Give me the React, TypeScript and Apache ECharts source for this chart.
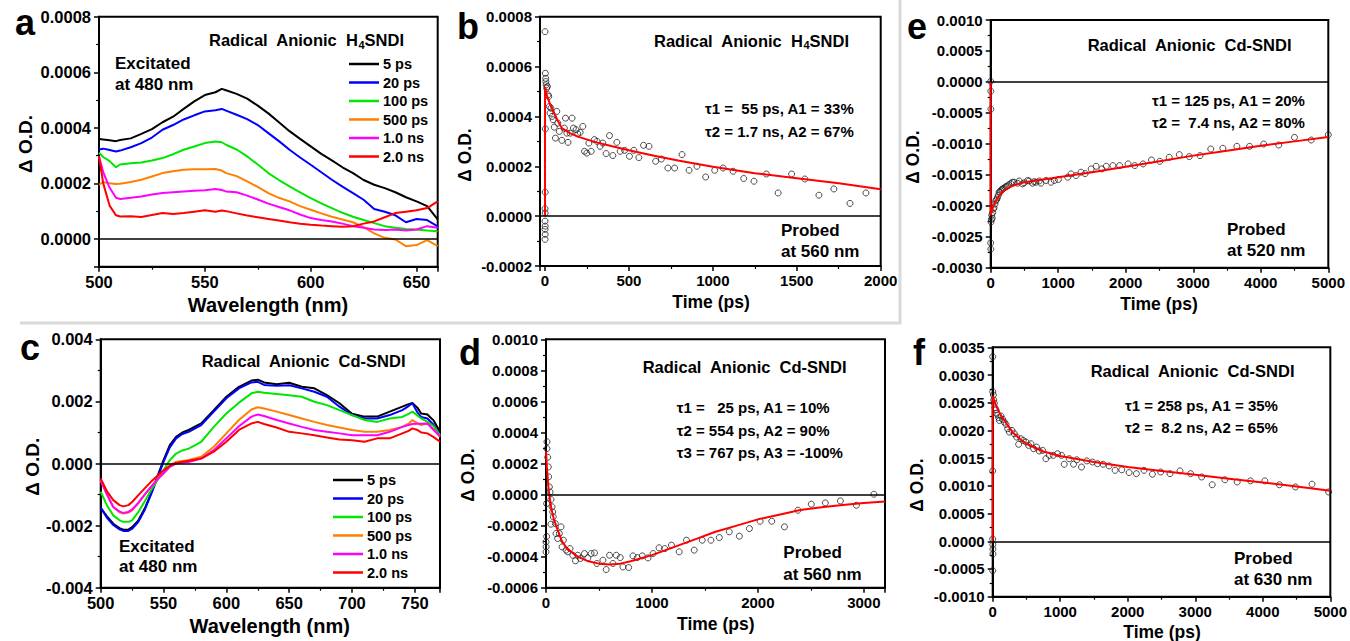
import React, { useEffect, useRef } from "react";
import * as echarts from "echarts";

const FONT = '"Liberation Sans", Arial, Helvetica, sans-serif';

// ---------- shared ----------
const timeLabels = ["5 ps", "20 ps", "100 ps", "500 ps", "1.0 ns", "2.0 ns"];
const spectrumColors = ["#000000", "#0000ff", "#00e600", "#ff8000", "#ff00ff", "#ff0000"];
const fitColor = "#ff0000";

// ---------- panel a : Radical Anionic H4SNDI spectra ----------
const aWavelength = [500, 502, 505, 508, 510, 515, 520, 525, 530, 535, 540, 545, 550, 555, 558, 560, 565, 570, 575, 580, 585, 590, 595, 600, 605, 610, 615, 620, 625, 630, 635, 640, 645, 650, 655, 660];
const a5ps = [0.00036, 0.000358, 0.000355, 0.000352, 0.000356, 0.000362, 0.000378, 0.000395, 0.00042, 0.00044, 0.000468, 0.000495, 0.000518, 0.000528, 0.00054, 0.000535, 0.000522, 0.000505, 0.00048, 0.000452, 0.00042, 0.000388, 0.00036, 0.000333, 0.000306, 0.000283, 0.000258, 0.000237, 0.000212, 0.000195, 0.000183, 0.000168, 0.00015, 0.000135, 0.000118, 0.00007];
const a20ps = [0.000322, 0.000325, 0.00032, 0.000315, 0.000318, 0.00033, 0.000345, 0.000365, 0.000393, 0.00041, 0.00043, 0.000445, 0.000459, 0.000463, 0.000468, 0.000462, 0.000447, 0.000431, 0.00041, 0.000381, 0.000352, 0.000321, 0.000293, 0.000267, 0.00024, 0.000213, 0.000188, 0.000165, 0.000141, 0.000108, 0.000098, 0.000085, 0.00006, 0.000072, 0.000068, 0.000045];
const a100ps = [0.00031, 0.000295, 0.00028, 0.000258, 0.000268, 0.000272, 0.000275, 0.000282, 0.000291, 0.000305, 0.000321, 0.000333, 0.000345, 0.000351, 0.000348, 0.000339, 0.000322, 0.000297, 0.000268, 0.000237, 0.000212, 0.000189, 0.000168, 0.000147, 0.000128, 0.000111, 0.000094, 0.00008, 0.000068, 0.000057, 0.000046, 0.00004, 0.000036, 0.000034, 0.00003, 0.000028];
const a500ps = [0.000195, 0.000205, 0.0002, 0.000198, 0.000199, 0.000205, 0.000213, 0.000225, 0.000237, 0.000244, 0.000249, 0.000251, 0.000251, 0.000252, 0.000246, 0.000237, 0.000226, 0.000207, 0.000187, 0.000165, 0.000148, 0.000135, 0.000118, 0.000105, 0.000092, 0.00008, 0.00007, 0.00006, 0.000042, 0.00002, 0.000004, -0.000002, -0.000026, -0.000022, -0.000004, -0.000026];
const a1ns = [0.000297, 0.00024, 0.000185, 0.000148, 0.000144, 0.000148, 0.000153, 0.00016, 0.000165, 0.000168, 0.000171, 0.000173, 0.000175, 0.00018, 0.000176, 0.000171, 0.000168, 0.000156, 0.000142, 0.000127, 0.000115, 0.000103, 0.000088, 0.000075, 0.000068, 0.000063, 0.000055, 0.000046, 0.00004, 0.000034, 0.000032, 0.000034, 0.00003, 0.000034, 0.000046, 0.00004];
const a2ns = [0.000297, 0.0002, 0.00012, 0.000085, 0.000081, 0.000082, 0.000079, 0.000086, 0.000093, 0.00009, 0.000093, 0.000098, 0.000103, 0.000098, 0.000102, 0.0001, 0.000092, 0.000084, 0.000078, 0.000072, 0.000066, 0.00006, 0.000055, 0.000051, 0.000048, 0.000046, 0.000044, 0.000046, 0.000055, 0.000063, 0.000078, 0.000093, 0.000098, 0.000103, 0.000111, 0.000135];

// ---------- panel c : Radical Anionic Cd-SNDI spectra ----------
const cWavelength = [500, 505, 510, 515, 518, 522, 525, 530, 535, 540, 545, 550, 555, 560, 565, 570, 580, 590, 600, 610, 620, 625, 630, 640, 650, 660, 670, 680, 690, 700, 710, 720, 730, 740, 745, 748, 752, 755, 760, 765, 770];
const c5ps = [-0.00143, -0.0017, -0.00194, -0.00208, -0.00213, -0.00213, -0.00205, -0.00183, -0.00145, -0.00097, -0.00043, 0.00011, 0.00059, 0.00086, 0.001, 0.00108, 0.00129, 0.00172, 0.00215, 0.00247, 0.00267, 0.0027, 0.00261, 0.00255, 0.0026, 0.00247, 0.00242, 0.0022, 0.00194, 0.0016, 0.00151, 0.00151, 0.00167, 0.00183, 0.00191, 0.00195, 0.0018, 0.00161, 0.00158, 0.00138, 0.00102];
const c20ps = [-0.00143, -0.00175, -0.00198, -0.00212, -0.00217, -0.00217, -0.0021, -0.00188, -0.0015, -0.001, -0.00048, 0.00005, 0.00052, 0.00081, 0.00095, 0.00102, 0.00124, 0.00167, 0.0021, 0.00242, 0.00261, 0.00263, 0.00253, 0.0025, 0.00252, 0.00242, 0.00231, 0.00215, 0.00183, 0.00156, 0.00145, 0.00145, 0.00156, 0.00172, 0.00185, 0.00194, 0.00165, 0.0015, 0.00145, 0.00124, 0.00091];
const c100ps = [-0.00091, -0.00135, -0.00167, -0.00183, -0.00188, -0.00188, -0.00183, -0.00156, -0.00122, -0.00086, -0.00055, -0.00022, 0.00011, 0.00032, 0.00042, 0.00048, 0.0007, 0.00118, 0.00161, 0.00196, 0.00226, 0.00231, 0.00228, 0.00224, 0.0022, 0.00215, 0.00199, 0.00188, 0.00172, 0.00156, 0.0014, 0.00134, 0.00145, 0.0015, 0.0016, 0.00167, 0.00155, 0.00145, 0.00134, 0.0012, 0.00091];
const c500ps = [-0.00054, -0.001, -0.0014, -0.00157, -0.00161, -0.00158, -0.00151, -0.00127, -0.001, -0.00075, -0.0005, -0.00027, -0.00005, 0.00005, 0.00008, 0.00011, 0.00022, 0.00054, 0.00097, 0.0014, 0.00174, 0.00181, 0.00177, 0.00167, 0.00156, 0.00145, 0.00134, 0.00124, 0.00116, 0.00108, 0.00102, 0.00102, 0.00108, 0.00118, 0.00128, 0.0014, 0.0013, 0.00124, 0.00129, 0.0011, 0.00086];
const c1ns = [-0.00054, -0.001, -0.0014, -0.00155, -0.00159, -0.00156, -0.00148, -0.00127, -0.001, -0.00075, -0.00052, -0.00032, -0.00011, 0.0, 0.00003, 0.00005, 0.00016, 0.00043, 0.00081, 0.0012, 0.00151, 0.00158, 0.00153, 0.0014, 0.00129, 0.00118, 0.00108, 0.00102, 0.00097, 0.00091, 0.00091, 0.00091, 0.00102, 0.00118, 0.00124, 0.00127, 0.00128, 0.00128, 0.00129, 0.00108, 0.00088];
const c2ns = [-0.00048, -0.0009, -0.00118, -0.00134, -0.00138, -0.00134, -0.00124, -0.00102, -0.0008, -0.00059, -0.0004, -0.00022, -0.00008, 0.00002, 0.00006, 0.00009, 0.00016, 0.00038, 0.0007, 0.00108, 0.00129, 0.00134, 0.00127, 0.00116, 0.00102, 0.00097, 0.00091, 0.00084, 0.00077, 0.00075, 0.0007, 0.00081, 0.00081, 0.00097, 0.00105, 0.00113, 0.00108, 0.001, 0.00097, 0.00085, 0.0007];

// ---------- panel b : H4SNDI kinetics probed at 560 nm ----------
const bTime = [0, 0, 1, 0, 1, 0, 1, 0, 1, 2, 2, 4, 5, 7, 10, 14, 18, 22, 26, 30, 35, 42, 48, 55, 62, 70, 76, 85, 100, 115, 122, 130, 137, 150, 161, 169, 185, 195, 209, 225, 235, 249, 261, 275, 294, 310, 328, 344, 364, 384, 404, 428, 448, 474, 503, 529, 559, 587, 619, 659, 693, 732, 772, 816, 858, 905, 957, 1011, 1061, 1121, 1184, 1245, 1319, 1389, 1469, 1548, 1632, 1721, 1817, 1912];
const bDOD = [0.00074, -0.000093, -0.000073, -0.000053, -0.00004, -0.00002, 0.000013, 0.00003, 0.000096, 0.00035, 0.000573, 0.000553, 0.00054, 0.000527, 0.000513, 0.00052, 0.000487, 0.00048, 0.00044, 0.000413, 0.000433, 0.0004, 0.000387, 0.000357, 0.000313, 0.00042, 0.000373, 0.00034, 0.000304, 0.000353, 0.000393, 0.000333, 0.000296, 0.000333, 0.000393, 0.000353, 0.000347, 0.00033, 0.000336, 0.00036, 0.00026, 0.000253, 0.000293, 0.00026, 0.000307, 0.0003, 0.00028, 0.000293, 0.000251, 0.000323, 0.000243, 0.000296, 0.00026, 0.000264, 0.00024, 0.000264, 0.000235, 0.000284, 0.00028, 0.00022, 0.000229, 0.000193, 0.000193, 0.000247, 0.000184, 0.0002, 0.000157, 0.000184, 0.000193, 0.00018, 0.000151, 0.00014, 0.000169, 0.000093, 0.000169, 0.000149, 0.000084, 0.000109, 0.000051, 0.000093];
const bFitTime = [0, 0, 10, 20, 35, 50, 75, 100, 150, 200, 300, 400, 500, 650, 800, 1000, 1250, 1500, 1750, 2000];
const bFitDOD = [0, 0.000517, 0.000487, 0.000467, 0.00044, 0.00042, 0.000384, 0.000353, 0.000332, 0.000318, 0.000297, 0.00028, 0.000264, 0.000242, 0.000222, 0.000198, 0.000172, 0.000152, 0.000132, 0.000108];

// ---------- panel e : Cd-SNDI kinetics probed at 520 nm ----------
const eTime = [0, 2, 3, 0, 2, 5, 10, 15, 22, 30, 40, 50, 64, 74, 88, 99, 112, 124, 137, 149, 162, 174, 190, 213, 230, 248, 270, 298, 322, 347, 397, 422, 471, 496, 546, 570, 620, 645, 670, 719, 744, 818, 893, 942, 1002, 1141, 1190, 1265, 1339, 1399, 1488, 1562, 1647, 1711, 1810, 1910, 2034, 2133, 2257, 2381, 2505, 2644, 2793, 2941, 3100, 3259, 3438, 3646, 3834, 4043, 4266, 4499, 4747, 5000];
const eDOD = [0.00001, -0.00015, -0.00044, -0.0026, -0.0027, -0.00226, -0.00222, -0.00215, -0.0022, -0.00211, -0.00205, -0.00203, -0.00197, -0.00192, -0.0019, -0.00187, -0.00183, -0.00178, -0.00178, -0.00176, -0.00174, -0.00173, -0.00172, -0.0017, -0.00169, -0.00168, -0.00166, -0.00164, -0.00162, -0.00162, -0.001635, -0.0016, -0.001646, -0.00163, -0.001592, -0.0016, -0.001635, -0.00161, -0.00162, -0.0016, -0.001635, -0.001592, -0.00162, -0.001592, -0.001576, -0.001539, -0.001485, -0.001512, -0.001458, -0.00148, -0.001405, -0.001362, -0.001405, -0.001362, -0.001351, -0.001351, -0.001324, -0.001351, -0.001324, -0.00126, -0.001282, -0.001217, -0.001174, -0.001206, -0.00119, -0.001083, -0.001072, -0.00104, -0.00104, -0.001003, -0.001019, -0.000895, -0.000938, -0.000853];
const eFitTime = [0, 0, 10, 25, 50, 100, 150, 200, 300, 400, 500, 750, 1000, 1500, 2000, 2500, 3000, 3500, 4000, 4500, 5000];
const eFitDOD = [0, -0.00215, -0.00211, -0.00205, -0.00198, -0.00188, -0.00181, -0.00175, -0.00169, -0.00165, -0.00162, -0.00158, -0.00154, -0.00146, -0.00137, -0.00128, -0.00119, -0.00111, -0.00103, -0.00096, -0.00089];

// ---------- panel d : Cd-SNDI kinetics probed at 560 nm ----------
const dTime = [0, 1, 0, 6, 6, 9, 9, 16, 22, 25, 32, 38, 47, 57, 63, 69, 47, 88, 95, 110, 126, 142, 152, 164, 189, 205, 227, 253, 278, 300, 325, 363, 395, 426, 458, 480, 537, 568, 600, 632, 663, 701, 726, 780, 821, 862, 909, 963, 1011, 1067, 1121, 1184, 1257, 1326, 1399, 1475, 1557, 1636, 1730, 1825, 1920, 2021, 2131, 2251, 2378, 2504, 2637, 2779, 2930, 3095];
const dDOD = [-0.000305, -0.000337, -0.000369, -0.00027, -0.000058, 0.00034, 0.000296, 0.00024, 0.000178, 0.000114, 0.000049, 0.000017, -0.000032, -0.000079, -0.000112, -0.000144, -0.000191, -0.000187, -0.000251, -0.000283, -0.000251, -0.000208, -0.000337, -0.000294, -0.000358, -0.000369, -0.000348, -0.000391, -0.000427, -0.000391, -0.000412, -0.00038, -0.000408, -0.00038, -0.000376, -0.000444, -0.000423, -0.000483, -0.000391, -0.000444, -0.000391, -0.000406, -0.000466, -0.00047, -0.000395, -0.000406, -0.000395, -0.000408, -0.00038, -0.000343, -0.000348, -0.000326, -0.000369, -0.000294, -0.000358, -0.000294, -0.000294, -0.000277, -0.00024, -0.000268, -0.000219, -0.000172, -0.000172, -0.000208, -0.000101, -0.000062, -0.000054, -0.000041, -0.000069, 0.000002];
const dFitTime = [0, 10, 25, 50, 75, 100, 150, 200, 300, 400, 500, 600, 700, 800, 1000, 1200, 1400, 1600, 1800, 2000, 2200, 2400, 2600, 2800, 3000, 3200];
const dFitDOD = [0.00028, 0.00016, 0.00003, -0.00009, -0.00016, -0.00021, -0.0003, -0.00035, -0.0004, -0.00043, -0.000445, -0.00045, -0.000445, -0.00043, -0.00039, -0.00034, -0.00029, -0.00024, -0.0002, -0.00016, -0.00013, -0.0001, -0.000082, -0.000067, -0.000055, -0.000045];

// ---------- panel f : Cd-SNDI kinetics probed at 630 nm ----------
const fTime = [0, 0, 0, 2, 3, 4, 0, 1, 10, 15, 25, 34, 49, 59, 74, 89, 99, 123, 148, 172, 197, 222, 246, 286, 320, 355, 384, 419, 453, 493, 532, 567, 606, 650, 690, 739, 788, 837, 897, 961, 1020, 1059, 1133, 1197, 1246, 1315, 1394, 1478, 1552, 1635, 1724, 1813, 1911, 2020, 2128, 2241, 2365, 2488, 2626, 2773, 2931, 3094, 3251, 3438, 3621, 3818, 4030, 4246, 4483, 4729, 4975];
const fDOD = [0.00333, 0.00127, 0.00004, -0.00006, -0.00014, -0.00023, -0.00053, 0.0027, 0.00264, 0.00255, 0.00249, 0.00241, 0.00237, 0.00231, 0.00228, 0.00223, 0.00218, 0.00226, 0.0022, 0.00215, 0.00211, 0.00203, 0.00197, 0.002, 0.00194, 0.00188, 0.00175, 0.00185, 0.00182, 0.00179, 0.00173, 0.00176, 0.00167, 0.0017, 0.00163, 0.00164, 0.00149, 0.00155, 0.00155, 0.00158, 0.00155, 0.00139, 0.00149, 0.00139, 0.00147, 0.00134, 0.00145, 0.00143, 0.0014, 0.00139, 0.00136, 0.00128, 0.00129, 0.00124, 0.00122, 0.00128, 0.00121, 0.00125, 0.00122, 0.00127, 0.00122, 0.00116, 0.00102, 0.00111, 0.00107, 0.00109, 0.00109, 0.00102, 0.00098, 0.00103, 0.00089];
const fFitTime = [0, 0, 25, 50, 100, 150, 200, 300, 400, 500, 750, 1000, 1500, 2000, 2500, 3000, 3500, 4000, 4500, 5000];
const fFitDOD = [0, 0.00262, 0.00253, 0.00245, 0.00232, 0.00222, 0.00213, 0.00196, 0.00185, 0.00176, 0.00162, 0.00154, 0.00143, 0.00134, 0.00127, 0.0012, 0.00113, 0.00106, 0.00099, 0.00091];

// ---------- helpers ----------
const zip = (xs: number[], ys: number[]) => {
  const n = Math.min(xs.length, ys.length);
  const out: number[][] = [];
  for (let i = 0; i < n; i++) out.push([xs[i], ys[i]]);
  return out;
};

const fixed = (d: number) => (v: number) => (Math.abs(v) < 1e-12 ? (0).toFixed(d) : v.toFixed(d));
const intLabel = (v: number) => (v < 0 ? "" : String(Math.round(v)));

const axisStyle = (fs: number, margin: number) => ({
  axisLine: { show: true, onZero: false, lineStyle: { color: "#000", width: 2 } },
  axisTick: { show: true, inside: false, length: 5, lineStyle: { color: "#000", width: 1.5 } },
  minorTick: { show: true, splitNumber: 2, length: 3, lineStyle: { color: "#000", width: 1.2 } },
  splitLine: { show: false },
  minorSplitLine: { show: false },
  axisLabel: { color: "#000", fontSize: fs, fontWeight: "bold", fontFamily: FONT, margin },
});

function xAxisCfg(gridIndex: number, fs: number, extra: any, label: any = {}) {
  const base = axisStyle(fs, 7);
  return { type: "value", gridIndex, ...extra, ...base, axisLabel: { ...base.axisLabel, formatter: intLabel, ...label } };
}
function yAxisCfg(gridIndex: number, fs: number, digits: number, extra: any, label: any = {}) {
  const base = axisStyle(fs, 8);
  return { type: "value", gridIndex, ...extra, ...base, axisLabel: { ...base.axisLabel, formatter: fixed(digits), ...label } };
}

const zeroLine = {
  silent: true,
  symbol: "none",
  label: { show: false },
  lineStyle: { color: "#000", width: 1.5, type: "solid" },
  data: [{ yAxis: 0 }],
};

const txt = (x: number, y: number, text: string, fontSize: number, extra: any = {}) => ({
  type: "text",
  x,
  y,
  silent: true,
  style: { text, fontSize, fontWeight: "bold", fontFamily: FONT, fill: "#000", align: "left", verticalAlign: "middle", ...extra },
});

const titleRich = (x: number, y: number, pre: string, sub: string, post: string) => ({
  type: "text",
  x,
  y,
  silent: true,
  style: {
    text: sub ? `{n|${pre}}{s|${sub}}{n|${post}}` : `{n|${pre}}`,
    align: "left",
    verticalAlign: "middle",
    rich: {
      n: { fontSize: 16.5, fontWeight: "bold", fontFamily: FONT, fill: "#000", lineHeight: 20 },
      s: { fontSize: 11, fontWeight: "bold", fontFamily: FONT, fill: "#000", lineHeight: 12, verticalAlign: "bottom" },
    },
  },
});

const yTitle = (x: number, y: number, fs: number) => txt(x, y, "\u0394 O.D.", fs, { align: "center" });
const rotY = (x: number, y: number, fs: number) => ({ ...yTitle(x, y, fs), rotation: Math.PI / 2 });
const xTitle = (x: number, y: number, text: string, fs: number) => txt(x, y, text, fs, { align: "center" });

const SP = "\u00A0";

function buildOption() {
  const grids = [
    { left: 99, top: 16.7, width: 338.7, height: 250 }, // a
    { left: 540, top: 16.7, width: 340.7, height: 249.3 }, // b
    { left: 990.7, top: 20, width: 337.6, height: 247.7 }, // e
    { left: 100.7, top: 339.3, width: 339.3, height: 248.4 }, // c
    { left: 546, top: 339.3, width: 339, height: 248.4 }, // d
    { left: 992.7, top: 347.3, width: 339, height: 249.4 }, // f
  ].map((g) => ({ ...g, show: true, borderColor: "#000", borderWidth: 2, backgroundColor: "transparent", containLabel: false }));

  const xAxes = [
    xAxisCfg(0, 16.5, { min: 500, max: 660, interval: 50 }, { showMaxLabel: false }),
    xAxisCfg(1, 15, { min: -30, max: 2000, splitNumber: 4 }, { showMinLabel: false }),
    xAxisCfg(2, 15, { min: 0, max: 5000, interval: 1000 }),
    xAxisCfg(3, 16.5, { min: 500, max: 770, interval: 50 }, { showMaxLabel: false }),
    xAxisCfg(4, 15, { min: 0, max: 3200, interval: 1000 }, { showMaxLabel: false }),
    xAxisCfg(5, 15, { min: 0, max: 5000, interval: 1000 }),
  ];
  const yAxes = [
    yAxisCfg(0, 16.5, 4, { min: -0.0001, max: 0.0008, splitNumber: 4 }, { showMinLabel: false }),
    yAxisCfg(1, 15, 4, { min: -0.0002, max: 0.0008, interval: 0.0002 }),
    yAxisCfg(2, 15, 4, { min: -0.003, max: 0.001, interval: 0.0005 }),
    yAxisCfg(3, 16.5, 3, { min: -0.004, max: 0.004, interval: 0.002 }),
    yAxisCfg(4, 15, 4, { min: -0.0006, max: 0.001, interval: 0.0002 }),
    yAxisCfg(5, 15, 4, { min: -0.001, max: 0.0035, interval: 0.0005 }),
  ];

  const aSeries = [a5ps, a20ps, a100ps, a500ps, a1ns, a2ns];
  const cSeries = [c5ps, c20ps, c100ps, c500ps, c1ns, c2ns];

  const series: any[] = [];
  const spectra = (idx: number, xs: number[], sets: number[][]) =>
    sets.forEach((ys, i) =>
      series.push({
        type: "line",
        name: timeLabels[i],
        xAxisIndex: idx,
        yAxisIndex: idx,
        data: zip(xs, ys),
        symbol: "none",
        showSymbol: false,
        lineStyle: { width: 2, color: spectrumColors[i] },
        itemStyle: { color: spectrumColors[i] },
        z: 3,
        silent: true,
        ...(i === 0 ? { markLine: zeroLine } : {}),
      })
    );
  spectra(0, aWavelength, aSeries);
  spectra(3, cWavelength, cSeries);

  const kinetics = (idx: number, ts: number[], vs: number[], fts: number[], fvs: number[]) => {
    series.push({
      type: "scatter",
      xAxisIndex: idx,
      yAxisIndex: idx,
      data: zip(ts, vs),
      symbol: "circle",
      symbolSize: 6,
      itemStyle: { color: "rgba(255,255,255,0)", borderColor: "#222", borderWidth: 1 },
      z: 2,
      silent: true,
      markLine: zeroLine,
    });
    series.push({
      type: "line",
      xAxisIndex: idx,
      yAxisIndex: idx,
      data: zip(fts, fvs),
      symbol: "none",
      showSymbol: false,
      lineStyle: { width: 2, color: fitColor },
      itemStyle: { color: fitColor },
      z: 4,
      silent: true,
    });
  };
  kinetics(1, bTime, bDOD, bFitTime, bFitDOD);
  kinetics(2, eTime, eDOD, eFitTime, eFitDOD);
  kinetics(4, dTime, dDOD, dFitTime, dFitDOD);
  kinetics(5, fTime, fDOD, fFitTime, fFitDOD);

  const legendBase = {
    orient: "vertical",
    icon: "rect",
    itemWidth: 30,
    itemHeight: 2.5,
    itemGap: 3.5,
    padding: 0,
    selectedMode: false,
    data: timeLabels,
    textStyle: { fontSize: 14.5, fontWeight: "bold", fontFamily: FONT, color: "#000", padding: [0, 0, 0, -1] },
  };
  const legends = [
    { ...legendBase, left: 349, top: 56.5 },
    { ...legendBase, left: 333, top: 472.5 },
  ];

  const graphics: any[] = [
    // separators
    { type: "line", silent: true, shape: { x1: 900, y1: 0, x2: 900, y2: 323 }, style: { stroke: "#d9d9d9", lineWidth: 3 } },
    { type: "line", silent: true, shape: { x1: 20, y1: 323, x2: 901.5, y2: 323 }, style: { stroke: "#d9d9d9", lineWidth: 3 } },
    // panel letters
    txt(15, 22.5, "a", 36),
    txt(457, 26.8, "b", 36),
    txt(907, 26.8, "e", 36),
    txt(20, 347.5, "c", 36),
    txt(459, 352.5, "d", 36),
    txt(913, 352.5, "f", 36),
    // titles
    titleRich(209, 40, `Radical${SP} Anionic${SP} H`, "4", "SNDI"),
    titleRich(654, 40.7, `Radical${SP} Anionic${SP} H`, "4", "SNDI"),
    titleRich(1087.7, 45, `Radical${SP} Anionic${SP} Cd-SNDI`, "", ""),
    titleRich(201.7, 360.7, `Radical${SP} Anionic${SP} Cd-SNDI`, "", ""),
    titleRich(642.7, 366.7, `Radical${SP} Anionic${SP} Cd-SNDI`, "", ""),
    titleRich(1090.7, 370.7, `Radical${SP} Anionic${SP} Cd-SNDI`, "", ""),
    // excitation notes
    txt(115, 63, "Excitated", 17),
    txt(115, 84, "at 480 nm", 17),
    txt(119, 546, "Excitated", 17),
    txt(119, 566.7, "at 480 nm", 17),
    // probe notes
    txt(781, 230, "Probed", 17),
    txt(781, 251.7, "at 560 nm", 17),
    txt(1227, 229, "Probed", 17),
    txt(1227, 250.7, "at 520 nm", 17),
    txt(783.3, 552.7, "Probed", 17),
    txt(783.3, 574, "at 560 nm", 17),
    txt(1234, 558.3, "Probed", 17),
    txt(1234, 579.3, "at 630 nm", 17),
    // fit parameters
    txt(705, 108.3, `\u03c41 =${SP} 55 ps, A1 = 33%`, 15),
    txt(705, 131, "\u03c42 = 1.7 ns, A2 = 67%", 15),
    txt(1152, 100, "\u03c41 = 125 ps, A1 = 20%", 15),
    txt(1152, 122.7, `\u03c42 =${SP} 7.4 ns, A2 = 80%`, 15),
    txt(676.7, 407.3, `\u03c41 =${SP}${SP} 25 ps, A1 = 10%`, 15),
    txt(676.7, 430, "\u03c42 = 554 ps, A2 = 90%", 15),
    txt(676.7, 452.7, "\u03c43 = 767 ps, A3 = -100%", 15),
    txt(1125, 405, "\u03c41 = 258 ps, A1 = 35%", 15),
    txt(1125, 427.3, `\u03c42 =${SP} 8.2 ns, A2 = 65%`, 15),
    // axis titles
    rotY(25, 144, 19),
    rotY(465, 155, 17.5),
    rotY(913, 157, 17.5),
    rotY(32, 466.7, 19),
    rotY(468, 475, 17.5),
    rotY(917, 485, 17.5),
    xTitle(268, 305, "Wavelength (nm)", 20),
    xTitle(711, 301.7, "Time (ps)", 17.5),
    xTitle(1159, 304, "Time (ps)", 17.5),
    xTitle(269.7, 626, "Wavelength (nm)", 20),
    xTitle(715.8, 624, "Time (ps)", 17.5),
    xTitle(1162, 631.7, "Time (ps)", 17.5),
  ];

  return {
    animation: false,
    backgroundColor: "#ffffff",
    tooltip: { show: false },
    grid: grids,
    xAxis: xAxes,
    yAxis: yAxes,
    legend: legends,
    series,
    graphic: graphics,
  };
}

export default function App() {
  const ref = useRef<HTMLDivElement>(null);
  useEffect(() => {
    document.body.style.margin = "0";
    if (!ref.current) return;
    const chart = echarts.init(ref.current, undefined, { renderer: "svg" });
    chart.setOption(buildOption() as any);
    return () => {
      chart.dispose();
    };
  }, []);
  return (
    <div style={{ position: "fixed", left: 0, top: 0, width: 1350, height: 641, background: "#fff", overflow: "hidden" }}>
      <div ref={ref} style={{ width: 1350, height: 641 }} />
    </div>
  );
}
